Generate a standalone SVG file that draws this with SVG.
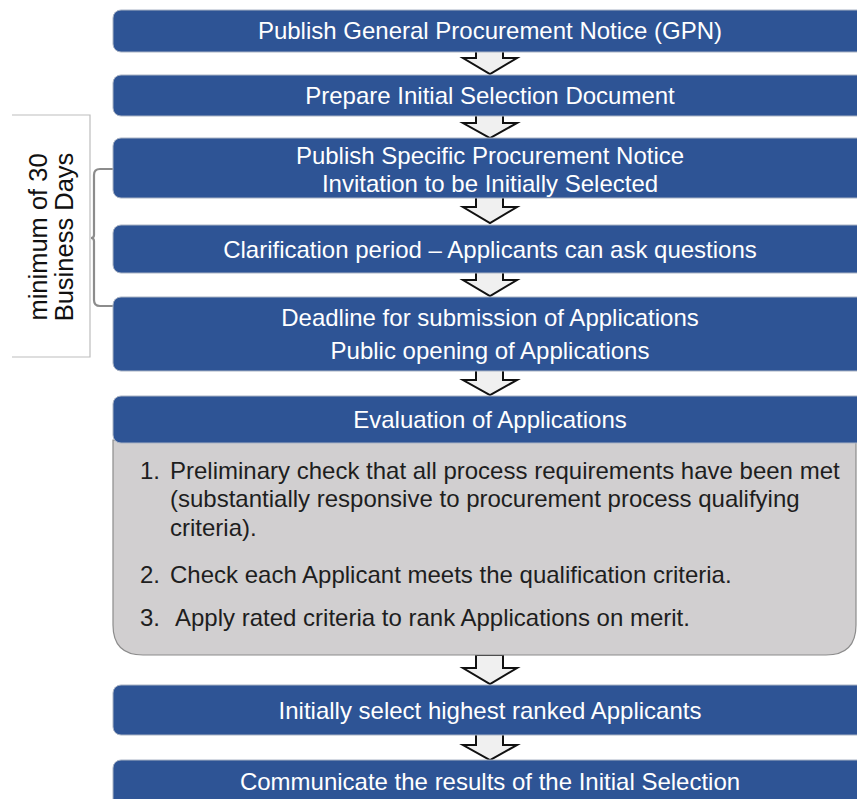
<svg xmlns="http://www.w3.org/2000/svg" width="857" height="799" viewBox="0 0 857 799">
<style>
.box{fill:#2E5495;stroke:#A9B3C4;stroke-width:1}
.t{font-family:"Liberation Sans",Arial,sans-serif;font-size:24px;fill:#FFFFFF;text-anchor:middle}
.b{font-family:"Liberation Sans",Arial,sans-serif;font-size:24px;fill:#1E1E1E}
.arr{fill:#F0F0F0;stroke:#111111;stroke-width:2;stroke-linejoin:miter}
.lbl{font-family:"Liberation Sans",Arial,sans-serif;font-size:25.5px;fill:#111111;text-anchor:middle}
</style>
<rect width="857" height="799" fill="#FFFFFF"/>
<g id="connectors">
<polygon class="arr" points="476,50 503,50 503,58 517,58 490,74 463,58 476,58"/>
<polygon class="arr" points="476,114 503,114 503,123 517,123 490,138 463,123 476,123"/>
<polygon class="arr" points="476,196 503,196 503,207 517,207 490,223 463,207 476,207"/>
<polygon class="arr" points="476,271 503,271 503,280 517,280 490,296 463,280 476,280"/>
<polygon class="arr" points="476,369 503,369 503,380 517,380 490,395 463,380 476,380"/>
<polygon class="arr" points="476,655 503,655 503,668 517,668 490,684 463,668 476,668"/>
<polygon class="arr" points="476,733 503,733 503,745 517,745 490,760 463,745 476,745"/>
</g>
<g id="bracket">
<polyline points="12,115 90,115 90,357 12,357" fill="none" stroke="#BDBDBD" stroke-width="1.2"/>
<path d="M113,169 L100,169 Q94,169 94,175 L94,235 Q94,238 91,238 Q94,238 94,241 L94,300 Q94,306 100,306 L113,306" fill="none" stroke="#8C8C8C" stroke-width="2.2"/>
<text class="lbl" transform="translate(47,237) rotate(-90)">minimum of 30</text>
<text class="lbl" transform="translate(73,237) rotate(-90)">Business Days</text>
</g>
<g id="n1"><rect class="box" x="113" y="10" width="770" height="42" rx="8"/><text class="t" x="490" y="38.5">Publish General Procurement Notice (GPN)</text></g>
<g id="n2"><rect class="box" x="113" y="75" width="770" height="41" rx="8"/><text class="t" x="490" y="103.5">Prepare Initial Selection Document</text></g>
<g id="n3"><rect class="box" x="113" y="138" width="770" height="60" rx="8"/><text class="t" x="490" y="163.5">Publish Specific Procurement Notice</text><text class="t" x="490" y="191.5">Invitation to be Initially Selected</text></g>
<g id="n4"><rect class="box" x="113" y="225" width="770" height="48" rx="8"/><text class="t" x="490" y="257.5">Clarification period – Applicants can ask questions</text></g>
<g id="n5"><rect class="box" x="113" y="297" width="770" height="74" rx="8"/><text class="t" x="490" y="325.5">Deadline for submission of Applications</text><text class="t" x="490" y="358.5">Public opening of Applications</text></g>
<g id="n6">
<path d="M113,440 L113,625 Q113,655 143,655 L826,655 Q856,655 856,625 L856,440 Z" fill="#D1CFD0" stroke="#8C8C8C" stroke-width="1.2"/>
<rect class="box" x="113" y="396" width="770" height="47" rx="8"/>
<text class="t" x="490" y="427.5">Evaluation of Applications</text>
<text class="b" x="140" y="478.5">1.</text>
<text class="b" x="170" y="478.5">Preliminary check that all process requirements have been met</text>
<text class="b" x="170" y="507">(substantially responsive to procurement process qualifying</text>
<text class="b" x="170" y="535.5">criteria).</text>
<text class="b" x="140" y="583">2.</text>
<text class="b" x="170" y="583">Check each Applicant meets the qualification criteria.</text>
<text class="b" x="140" y="626">3.</text>
<text class="b" x="175" y="626">Apply rated criteria to rank Applications on merit.</text>
</g>
<g id="n7"><rect class="box" x="113" y="685" width="770" height="50" rx="8"/><text class="t" x="490" y="718.5">Initially select highest ranked Applicants</text></g>
<g id="n8"><rect class="box" x="113" y="760" width="770" height="60" rx="8"/><text class="t" x="490" y="789.5">Communicate the results of the Initial Selection</text></g>
</svg>
